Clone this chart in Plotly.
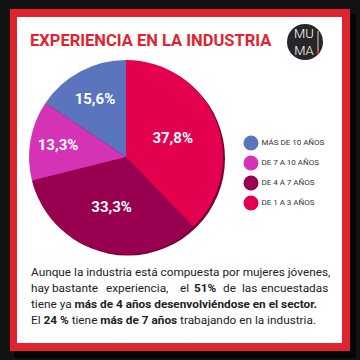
import plotly.graph_objects as go

# ---- data ----
categories = ["De 1 a 3 años", "De 4 a 7 años", "De 7 a 10 años", "Más de 10 años"]
values = [37.8, 33.3, 13.3, 15.6]
colors = ["#e2004f", "#98004f", "#d433b6", "#5b74be"]
legend_labels = ["MÁS DE 10 AÑOS", "DE 7 A 10 AÑOS", "DE 4 A 7 AÑOS", "DE 1 A 3 AÑOS"]
legend_colors = ["#5b74be", "#d433b6", "#98004f", "#e2004f"]
title = "EXPERIENCIA EN LA INDUSTRIA"
line1 = "Aunque la industria está compuesta por mujeres jóvenes,"
line2_words = ["hay", "bastante", "experiencia,", "el", "<b>51%</b>", "de", "las", "encuestadas"]
line3 = "tiene ya <b>más de 4 años desenvolviéndose en el sector.</b>"
line4 = "El <b>24 %</b> tiene <b>más de 7 años</b> trabajando en la industria."

W = H = 360
def px(x): return x / W
def py(y): return 1 - y / H

FONT = "Roboto"
pct_text = [f"{v:.1f}%".replace(".", ",") for v in values]

fig = go.Figure()
fig.add_trace(go.Pie(
    labels=categories, values=values, sort=False, direction="clockwise", rotation=0,
    marker=dict(colors=colors, line=dict(width=0)),
    text=pct_text, textinfo="text", textposition="inside",
    insidetextorientation="horizontal",
    textfont=dict(family=FONT, size=15, color="white", weight="bold"),
    domain=dict(x=[px(29), px(223)], y=[py(254), py(60)]),
    showlegend=False, hoverinfo="label+text",
))

# legend as scatter
fig.add_trace(go.Scatter(
    x=[0] * len(legend_labels), y=list(range(len(legend_labels))),
    mode="markers+text", text=legend_labels, textposition="middle right",
    marker=dict(size=15, color=legend_colors),
    textfont=dict(family=FONT, size=8, color="#333333"),
    showlegend=False, hoverinfo="skip", cliponaxis=False,
))

fig.update_layout(
    width=W, height=H, margin=dict(l=0, r=0, t=0, b=0),
    paper_bgcolor="#121212", plot_bgcolor="rgba(0,0,0,0)",
    xaxis=dict(domain=[px(231), px(271)], range=[-1, 1], visible=False, fixedrange=True),
    yaxis=dict(domain=[py(213), py(133)], range=[3.5, -0.5], visible=False, fixedrange=True),
)

P = dict(xref="paper", yref="paper")
shapes = [
    dict(type="rect", x0=px(14), x1=px(356), y0=py(14), y1=py(358), fillcolor="#050505", line_width=0, layer="below", **P),
    dict(type="rect", x0=px(10), x1=px(350), y0=py(9), y1=py(351), fillcolor="#e0232e", line_width=0, layer="below", **P),
    dict(type="rect", x0=px(17), x1=px(342), y0=py(17), y1=py(343), fillcolor="#ffffff", line_width=0, layer="below", **P),
    dict(type="circle", x0=px(30.5), x1=px(225), y0=py(61.5), y1=py(255.5), fillcolor="#7a0036", line_width=0, layer="below", **P),
    dict(type="circle", x0=px(287), x1=px(323), y0=py(24), y1=py(60), fillcolor="#262626", line_width=0, layer="below", **P),
    dict(type="line", x0=px(318), x1=px(318), y0=py(31), y1=py(51), line=dict(color="white", width=0.8), **P),
    dict(type="circle", x0=px(316.5), x1=px(319.5), y0=py(51), y1=py(54), fillcolor="#e0232e", line_width=0, **P),
]
fig.update_layout(shapes=shapes)

TXT = dict(family=FONT, size=11.8, color="#222222")
ann = []
ann.append(dict(x=px(28), y=py(40), text=f"<b>{title}</b>", showarrow=False, xanchor="left", yanchor="middle",
                font=dict(family=FONT, size=16.5, color="#e0232e"), **P))
ann.append(dict(x=px(304), y=py(42), text="MU<br>MA", showarrow=False, xanchor="center", yanchor="middle",
                font=dict(family=FONT, size=13, color="white", weight=300), align="center", **P))
for t, yy in [(line1, 272), (line3, 304), (line4, 320)]:
    ann.append(dict(x=px(29), y=py(yy), text=t, showarrow=False, xanchor="left", yanchor="middle",
                    font=TXT, **P))
# justified second line: word anchors
word_x = [29, 75, 137, 184, 205, 229, 249, 330]
word_anchor = ["left", "center", "center", "center", "center", "center", "center", "right"]
for w, xx, a in zip(line2_words, word_x, word_anchor):
    ann.append(dict(x=px(xx), y=py(288), text=w, showarrow=False, xanchor=a, yanchor="middle",
                    font=TXT, **P))
fig.update_layout(annotations=ann)

fig.write_html("out.html", config={"displayModeBar": False},
               post_script="document.body.style.margin='0';")
